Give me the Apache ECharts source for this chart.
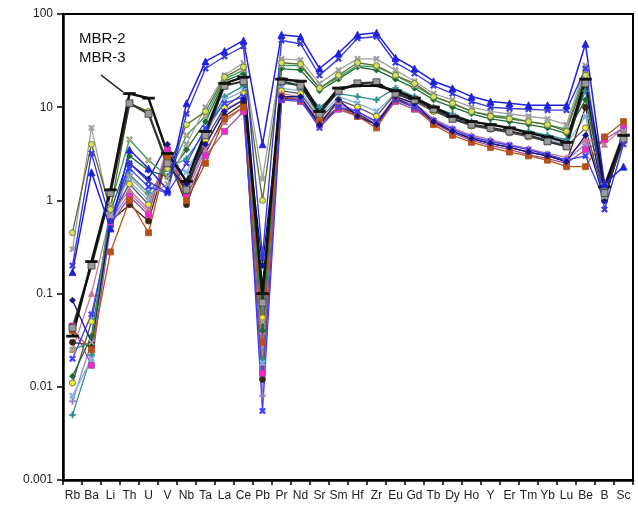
<!DOCTYPE html>
<html>
<head>
<meta charset="utf-8">
<script src="https://cdn.jsdelivr.net/npm/echarts@6/dist/echarts.min.js"></script>
<style>
  html, body { margin: 0; padding: 0; background: #fff; }
  #main { width: 638px; height: 509px; }
</style>
</head>
<body>
<div id="main"></div>
<script>
var elements = ['Rb','Ba','Li','Th','U','V','Nb','Ta','La','Ce','Pb','Pr','Nd','Sr','Sm','Hf','Zr','Eu','Gd','Tb','Dy','Ho','Y','Er','Tm','Yb','Lu','Be','B','Sc'];
var yTickLabels = ['0.001','0.01','0.1','1','10','100'];

// sample-normalised values, one array per sample, order as in elements
var lavenderPlus = [0.007,0.03,0.6,1.2,0.75,3.3,1.3,3.8,9.5,12,0.008,13,12.5,7,11,8.5,7,12.5,10.5,7.2,5.8,4.8,4.3,3.9,3.5,3.1,2.7,4,1.5,5.5];
var tealPlus = [0.005,0.022,0.7,1.9,1.2,2.2,2.8,5.5,13,17,0.02,18,17,10,14,13,12,16,13,10,8.5,7,6.5,6,5.5,5,4.5,15,1.1,4.5];
var lightBlueX = [0.008,0.02,0.55,1.6,1.0,2.5,2,5,12,15,0.018,16,15,8,13,11,9,14,12,9.5,8,6.5,6,5.5,5,4.5,4,8,1.2,5];
var brownCircle = [0.03,0.028,0.6,0.9,0.6,3,0.9,3.2,8,11,0.012,12.5,12,6.5,10,8.5,6.5,12.5,10,7,5.5,4.6,4.1,3.7,3.3,3,2.6,10,1.0,5];
var yellowCircle = [0.011,0.05,0.65,1.5,0.9,2.8,1.4,4.5,10,14,0.055,15,14,7.5,12,10,8,14,11.5,9,7.5,6.3,5.8,5.3,4.8,4.3,3.8,6,1.1,5];
var pinkTri = [0.025,0.1,0.7,1.3,0.8,3.8,1.2,3.5,7,10,0.04,14,13,7,11,9,7,13,11,7.5,6,5,4.5,4,3.6,3.2,2.9,4.5,4,6];
var magentaSq = [0.045,0.017,0.55,1.1,0.7,3.5,1.1,3,5.5,9,0.014,12,11.5,6.5,9.5,8,6.5,11.5,9.5,6.8,5.3,4.4,3.9,3.5,3.1,2.8,2.5,3.5,4.5,6];
var brownSq = [0.04,0.025,0.28,1.0,0.45,3,1.0,2.5,7.5,10,0.03,13,12,7,10,8,6,12,10,6.5,5,4.2,3.7,3.3,3,2.7,2.3,2.3,4.8,7];
var blueX = [0.02,0.06,0.5,2.2,1.4,1.2,2.5,6,11,13,0.0055,12,12,6,10,9,7,12,10,7.2,5.8,4.8,4.3,3.9,3.5,3.1,2.7,3,1.0,5.5];
var navyDiamond = [0.085,0.03,0.6,2.5,1.7,4,1.5,4,9,12,0.2,13,13,6.5,12,8,6.5,13,11,7,5.5,4.6,4.1,3.7,3.3,3,2.6,5,1.0,5];
var greenDiamond = [0.013,0.035,0.75,3,2.1,1.8,3.5,7,19,23,0.04,26,25,15,20,27,25,20,16,12,10,8.5,7.5,7,6.5,6,5.2,12,1.3,4.5];
var greenPinkX = [0.025,0.03,0.9,4.5,2.7,1.8,5,8,20,25,0.05,28,28,16,21,28,27,22,17,13,11,9,8.2,7.8,7,6.5,5.8,25,1.1,5];
var greyStar = [0.3,6,0.7,1.8,1.1,1.5,4,10,22,30,1.7,33,32,18,25,33,33,25,19,14,12,10,9,8.5,8,7.5,6.5,28,1.3,5.5];
var oliveCircle = [0.45,4,0.8,11,9,2.2,6.5,9,21,27,1.0,30,29,16,22,30,28,22,18,13,11,9,8,7.5,7,6.5,5.5,22,1.2,5];
var mbr3 = [0.043,0.2,1.2,11,8.5,2.5,1.3,5,17,19,0.08,19,17,8.5,15,18,18.5,14,12,9.5,7.5,6.5,6,5.5,5,4.3,3.8,18,1.2,4.5];
var mbr2 = [0.035,0.22,1.3,14,12.5,3.2,1.6,5.5,18,21,0.1,20,19,9,16,17,17,15,12.5,10,8,7,6.5,6,5.3,4.8,4.2,20,1.4,5];
var blueStar = [0.2,3.2,0.6,2.5,1.6,1.2,8.5,26,35,45,0.25,52,48,22,33,55,57,30,23,17,14,11.5,10,9.7,9.5,9.3,9.3,26,0.8,4];
var blueTri = [0.17,2.0,0.5,3.5,2.2,1.3,11,31,40,52,4.0,60,57,26,38,60,63,34,26,19,16,13,11.5,11,10.5,10.5,10.5,48,1.5,2.3];

var X_MARK = 'path://M0,2L2,0L5,3L8,0L10,2L7,5L10,8L8,10L5,7L2,10L0,8L3,5Z';
var PLUS_MARK = 'path://M4,0H6V4H10V6H6V10H4V6H0V4H4Z';

function line(name, data, color, symbol, fill, width, size) {
  return {
    name: name,
    type: 'line',
    data: data,
    symbol: symbol,
    symbolSize: size || 6,
    lineStyle: { color: color, width: width || 1.3 },
    itemStyle: { color: fill || color, borderColor: color, borderWidth: 0.8 },
    emphasis: { disabled: true },
    animation: false
  };
}

var chart = echarts.init(document.getElementById('main'));

var option = {
  backgroundColor: '#fff',
  textStyle: { fontFamily: 'Liberation Sans, Arial, sans-serif' },
  grid: {
    left: 63, top: 14, right: 5, bottom: 29,
    show: true, borderColor: '#000', borderWidth: 2
  },
  xAxis: {
    type: 'category',
    data: elements,
    boundaryGap: true,
    axisLine: { lineStyle: { color: '#000', width: 2.5 } },
    axisTick: { show: true, inside: false, length: 5, lineStyle: { color: '#000', width: 1.5 } },
    axisLabel: { interval: 0, margin: 10, color: '#222', fontSize: 12 },
    splitLine: { show: false }
  },
  yAxis: {
    type: 'log',
    logBase: 10,
    min: 0.001,
    max: 100,
    axisLine: { show: true, lineStyle: { color: '#000', width: 2.5 } },
    axisTick: { show: true, inside: false, length: 6, lineStyle: { color: '#000', width: 1.5 } },
    axisLabel: {
      color: '#222', fontSize: 12, margin: 10,
      formatter: function (v) {
        return yTickLabels[Math.round(Math.log10(v)) + 3];
      }
    },
    splitLine: { show: false },
    minorTick: { show: false }
  },
  series: [
    line('s18', lavenderPlus, '#a080d0', PLUS_MARK),
    line('s17', tealPlus, '#2f8f8f', PLUS_MARK),
    line('s16', lightBlueX, '#7fb2e6', X_MARK),
    line('s15', brownCircle, '#3a2414', 'circle'),
    line('s14', yellowCircle, '#555555', 'circle', '#f0f030'),
    line('s13', pinkTri, '#c8779a', 'triangle'),
    line('s12', magentaSq, '#9b4f9b', 'rect', '#ff22cc'),
    line('s11', brownSq, '#b8501a', 'rect'),
    line('s10', blueX, '#3c3cff', X_MARK),
    line('s9', navyDiamond, '#14148c', 'diamond'),
    line('s8', greenDiamond, '#1e6b30', 'diamond'),
    line('s7', greenPinkX, '#3c9a5a', X_MARK, '#e0a0a0'),
    line('s3', greyStar, '#a0a0a0', X_MARK),
    line('s4', oliveCircle, '#5d6b2f', 'circle', '#d8e060'),
    line('MBR-3', mbr3, '#333333', 'rect', '#9a9a9a', 2.2, 7),
    line('MBR-2', mbr2, '#111111', 'rect', '#111111', 2.5, [9, 2]),
    line('s2', blueStar, '#3a3ad8', X_MARK, '#3a3ad8', 1.4),
    line('s1', blueTri, '#1f1fe0', 'triangle', '#1f1fe0', 1.5, 7)
  ],
  graphic: [
    {
      type: 'text', left: 79, top: 29,
      style: { text: 'MBR-2\nMBR-3', font: '15px Liberation Sans, Arial, sans-serif', fill: '#111', lineHeight: 19 }
    },
    {
      type: 'line',
      shape: { x1: 101, y1: 75, x2: 123, y2: 92 },
      style: { stroke: '#111', lineWidth: 1.5 }
    }
  ]
};

chart.setOption(option);
</script>
</body>
</html>
